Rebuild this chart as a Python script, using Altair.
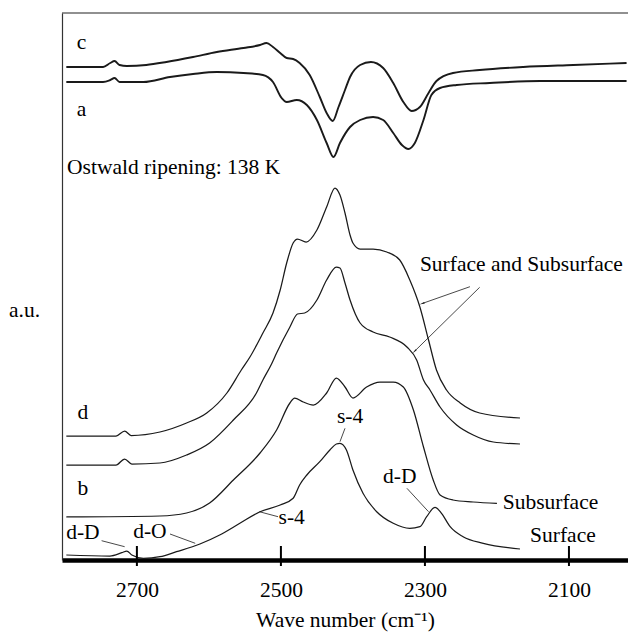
import altair as alt
import pandas as pd

FONT = "Liberation Serif"
INK = "#1a1a1a"

# ---- x axis ----
TICKS = [2700, 2500, 2300, 2100]

# ---- curve c (difference spectrum, top) ----
C_WN = [2798, 2747, 2737, 2731, 2724, 2714, 2687, 2659, 2622, 2589, 2552, 2529, 2520, 2511, 2501,
        2492, 2483, 2474, 2460, 2446, 2436.5, 2428, 2420, 2411, 2404, 2390, 2375, 2358, 2344, 2330,
        2318.5, 2307, 2295, 2284, 2261, 2224, 2163.5, 2094, 2020]
C_AU = [493, 493, 497, 499, 495, 494, 495, 498, 503, 508, 512, 515, 517, 513, 507,
        502, 501, 497, 485, 463, 447, 439, 453, 470, 483, 495, 498, 492, 477, 458,
        449, 453, 467, 479, 487, 490, 493, 495, 497]

# ---- curve a ----
A_WN = [2798, 2747, 2737, 2731, 2724, 2691, 2654, 2622, 2589, 2552, 2525, 2511, 2499, 2492, 2478,
        2464, 2450, 2436.5, 2427, 2418, 2404, 2390, 2372, 2358, 2344, 2332, 2323, 2314, 2302, 2291,
        2279, 2256, 2210, 2140, 2020]
A_AU = [478, 478, 480, 482, 478, 478, 483, 486, 488, 487, 485, 478, 462, 458, 460,
        455, 440, 417, 403, 417, 433, 440, 443, 440, 427, 415, 411, 417, 440, 465,
        472, 475, 477, 479, 479]

# ---- curve d (surface and subsurface, upper) ----
D1_WN = [2798, 2729, 2717, 2708, 2668, 2631, 2603, 2575, 2555, 2543, 2525, 2511, 2501, 2492, 2483,
         2477, 2465, 2450, 2436.5, 2425, 2418, 2411, 2404, 2400, 2390, 2372, 2353, 2335, 2321, 2307,
         2295, 2284, 2270, 2251, 2224, 2168]
D1_AU = [124, 124, 129, 124.5, 128, 137, 147, 167, 190, 203, 227, 247, 270, 297, 317,
         321, 318, 330, 353, 372, 365, 347, 325, 317, 311, 311, 308, 300, 280, 253,
         220, 190, 170, 157, 147, 142]

# ---- second surface-and-subsurface curve ----
D2_WN = [2798, 2729, 2717, 2707, 2668, 2631, 2599, 2566, 2534, 2525, 2513, 2506, 2487.5, 2477, 2467,
         2450, 2436.5, 2423, 2418, 2411, 2404, 2390, 2372, 2349, 2325, 2311.5, 2302, 2293, 2279, 2256,
         2233, 2205, 2168]
D2_AU = [95, 95, 101, 96, 97, 105, 117, 140, 167, 180, 196, 207, 233, 246, 247,
         260, 280, 293, 292, 277, 260, 237, 228, 223, 213, 200, 180, 170, 153, 135,
         125, 118, 116]

# ---- curve b (subsurface) ----
B_WN = [2798, 2668, 2631, 2599, 2566, 2529, 2506, 2487.5, 2481, 2469, 2455, 2436.5, 2423, 2411, 2400,
        2381, 2362.5, 2344, 2330, 2316, 2302, 2288.5, 2279, 2261, 2233, 2200]
B_AU = [43, 44, 47, 57, 80, 107, 130, 157, 162, 158, 155, 167, 182, 173, 162,
        173, 178, 178, 173, 150, 113, 80, 65, 60, 58, 56.5]

# ---- surface curve ----
S_WN = [2798, 2737.5, 2721, 2714, 2707, 2691, 2668, 2645, 2612.5, 2585, 2557, 2529, 2501, 2483, 2474,
        2464, 2446, 2432, 2423, 2418, 2409, 2400, 2386, 2367, 2344, 2321, 2307, 2297.6, 2286, 2277,
        2265, 2247, 2219, 2168]
S_AU = [5, 4, 7.3, 9, 5, 1.7, 3.3, 8.3, 16, 25, 36.7, 48.3, 55, 61.7, 75,
        85, 98.3, 110, 116, 116.7, 110, 90, 66.7, 48.3, 36.7, 31.7, 33.3, 43.3, 52.7, 46.7,
        33.3, 23.3, 16.7, 11]

# ---- leader lines ----
LEAD_ID = ["dD1", "dD1", "dO", "dO", "s4a", "s4a", "s4b", "s4b", "dD2", "dD2", "ar1", "ar1", "ar2", "ar2"]
LEAD_WN = [2749, 2717, 2654, 2619, 2504, 2530, 2411, 2418, 2325, 2295, 2237.5, 2303, 2224, 2314]
LEAD_AU = [19.3, 13.3, 26, 16.7, 43.3, 48.3, 131.7, 118.3, 71.7, 48.3, 273.3, 256.7, 272.7, 209]

# arrow heads
HEAD_WN = [2303, 2314]
HEAD_AU = [256.7, 209]
HEAD_ANGLE = [251, 226]

# ---- text labels ----
TXT = ["c", "a", "Ostwald ripening: 138 K", "d", "b", "d-D", "d-O", "s-4", "s-4", "d-D",
       "Subsurface", "Surface", "Surface and Subsurface"]
TXT_WN = [2777, 2777, 2797, 2775, 2775, 2775, 2682, 2485, 2404, 2335, 2192, 2154, 2307]
TXT_AU = [516.7, 450, 391.7, 146.7, 71, 26.7, 28.3, 41.7, 143.3, 82.7, 56.7, 24.3, 295]
TXT_ALIGN = ["center", "center", "left", "center", "center", "center", "center", "center", "center",
             "center", "left", "left", "left"]


def frame(name, wn, au):
    return pd.DataFrame({"series": name, "wn": wn, "au": au})


thick = pd.concat([frame("c", C_WN, C_AU), frame("a", A_WN, A_AU)])
thin = pd.concat([frame("d1", D1_WN, D1_AU), frame("d2", D2_WN, D2_AU),
                  frame("b", B_WN, B_AU), frame("s", S_WN, S_AU)])
leads = pd.DataFrame({"series": LEAD_ID, "wn": LEAD_WN, "au": LEAD_AU})
heads = pd.DataFrame({"wn": HEAD_WN, "au": HEAD_AU, "angle": HEAD_ANGLE})
texts = pd.DataFrame({"label": TXT, "wn": TXT_WN, "au": TXT_AU, "align": TXT_ALIGN})
ticks = pd.DataFrame({"wn": TICKS})
top = pd.DataFrame({"au": [547]})

X = alt.X("wn:Q",
          scale=alt.Scale(domain=[2018, 2804], reverse=True, nice=False, zero=False),
          axis=alt.Axis(values=TICKS, ticks=False, grid=False, format="d",
                        domainColor="black", domainWidth=4.5,
                        labelFont=FONT, labelFontSize=21.5, labelColor="black", labelPadding=19,
                        title="Wave number (cm\u207b\u00b9)", titleFont=FONT, titleFontSize=21.5,
                        titleFontWeight="normal", titleColor="black", titleBaseline="top", titleY=49))
Y = alt.Y("au:Q",
          scale=alt.Scale(domain=[0, 547], nice=False, zero=False),
          axis=alt.Axis(ticks=False, labels=False, grid=False, domainColor="#333", domainWidth=1.2,
                        title="a.u.", titleAngle=0, titleX=-38, titleY=297, titleAlign="center",
                        titleBaseline="middle", titleFont=FONT, titleFontSize=21.5,
                        titleFontWeight="normal", titleColor="black"))

l_thick = alt.Chart(thick).mark_line(color=INK, strokeWidth=1.9, interpolate="monotone").encode(
    x=X, y=Y, detail="series:N")
l_thin = alt.Chart(thin).mark_line(color=INK, strokeWidth=1.25, interpolate="monotone").encode(
    x=X, y=Y, detail="series:N")
l_lead = alt.Chart(leads).mark_line(color=INK, strokeWidth=0.8).encode(x=X, y=Y, detail="series:N")
l_head = alt.Chart(heads).mark_point(shape="wedge", filled=True, color=INK, size=40, opacity=1).encode(
    x=X, y=Y, angle=alt.Angle("angle:Q", scale=None))
l_ticks = alt.Chart(ticks).mark_rule(color="black", strokeWidth=2).encode(
    x=X, y=alt.datum(-6), y2=alt.datum(14))
l_top = alt.Chart(top).mark_rule(color="#222", strokeWidth=1.2).encode(y=Y)

t_center = alt.Chart(texts).transform_filter(alt.datum.align == "center").mark_text(
    font=FONT, fontSize=21.5, color="black", align="center", baseline="middle").encode(
    x=X, y=Y, text="label:N")
t_left = alt.Chart(texts).transform_filter(alt.datum.align == "left").mark_text(
    font=FONT, fontSize=21.5, color="black", align="left", baseline="middle").encode(
    x=X, y=Y, text="label:N")

chart = alt.layer(l_thin, l_thick, l_lead, l_head, l_ticks, l_top, t_center, t_left).properties(
    width=566, height=547,
    padding={"left": 62, "top": 13, "right": 0, "bottom": 73},
    autosize=alt.AutoSizeParams(type="none"),
    background="white",
).configure_view(stroke=None)

chart.save("out.html", embed_options={"renderer": "svg", "actions": False})
